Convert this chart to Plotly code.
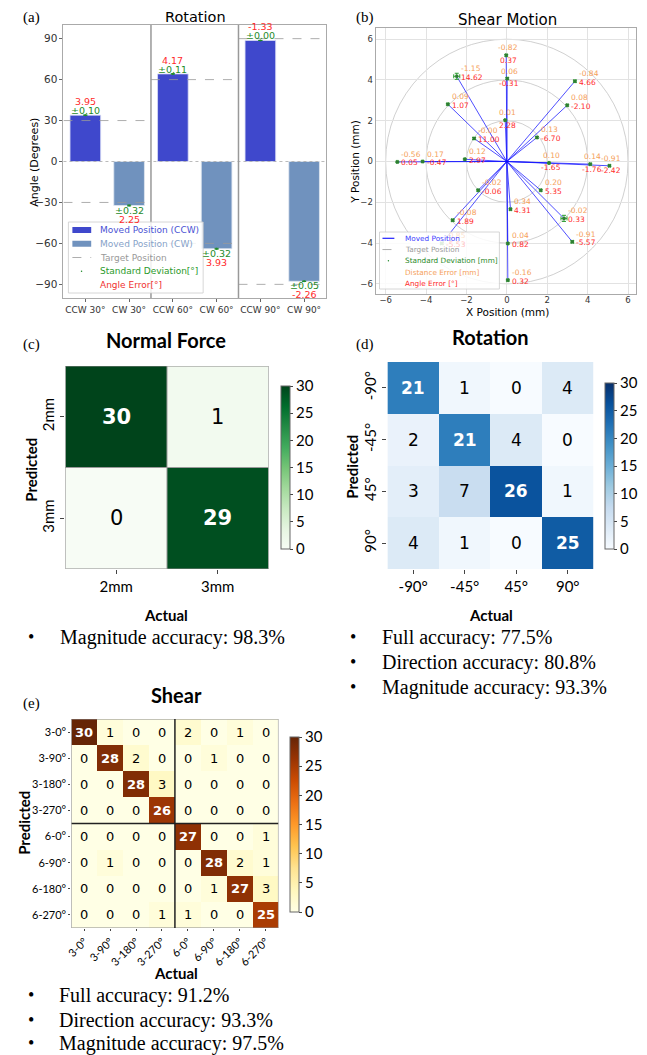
import plotly.graph_objects as go

W, H = 647, 1055
def px(x): return x / W
def py(y): return 1 - y / H

# ---------------- (a) Rotation bars ----------------
rot_cats = ["CCW 30°", "CW 30°", "CCW 60°", "CW 60°", "CCW 90°", "CW 90°"]
rot_moved = [33.95, -32.25, 64.17, -63.93, 88.67, -87.74]
rot_std = [0.10, 0.32, 0.11, 0.32, 0.00, 0.05]
rot_err = ["3.95", "2.25", "4.17", "3.93", "-1.33", "-2.26"]
rot_targets = [30, 60, 90]
rot_yticks = [-90, -60, -30, 0, 30, 60, 90]

# ---------------- (b) Shear motion ----------------
shear_dir = [90, 90, 90, 135, 135, 135, 180, 180, 180, 225, 225, 225,
             270, 270, 270, 315, 315, 315, 0, 0, 0, 45, 45, 45]
shear_x = [-0.03, 0.02, -0.08, -2.48, -2.92, -1.62, -2.08, -4.17, -5.42, -1.42, -2.68, -3.22,
           0.18, 0.05, 0.05, 1.68, 2.83, 3.24, 2.09, 4.13, 5.08, 1.49, 2.99, 3.37]
shear_y = [5.21, 4.07, 2.03, 4.18, 2.81, 1.13, 0.11, 0.00, -0.02, -1.41, -2.88, -4.02,
           -2.34, -4.02, -5.82, -1.41, -2.79, -3.94, -0.07, -0.13, -0.21, 1.18, 2.76, 3.94]
shear_std = [0.04, 0.04, 0.03, 0.15, 0.04, 0.05, 0.03, 0.03, 0.03, 0.04, 0.05, 0.05,
             0.04, 0.03, 0.04, 0.04, 0.15, 0.05, 0.03, 0.04, 0.04, 0.04, 0.04, 0.05]
shear_dist_err = ["-0.82", "0.06", "0.01", "-1.15", "0.09", "-0.00", "0.12", "0.17", "-0.56",
                  "-0.02", "-0.08", "-0.85", "0.34", "0.04", "-0.16", "0.20", "-0.02", "-0.91",
                  "0.10", "0.14", "-0.91", "0.13", "0.08", "-0.84"]
shear_ang_err = ["0.37", "-0.31", "2.28", "14.62", "1.07", "11.00", "2.97", "-0.47", "0.05",
                 "-0.06", "1.89", "-5.53", "4.31", "0.82", "0.32", "5.35", "0.33", "-5.57",
                 "-1.65", "-1.76", "-2.42", "-6.70", "-2.10", "4.66"]
shear_radii = [2, 4, 6]
shear_ticks = [-6, -4, -2, 0, 2, 4, 6]

# ---------------- (c) Normal force ----------------
nf_labels = ["2mm", "3mm"]
nf_matrix = [[30, 1], [0, 29]]
nf_acc = ["Magnitude accuracy: 98.3%"]

# ---------------- (d) Rotation confusion ----------------
rc_labels = ["-90°", "-45°", "45°", "90°"]
rc_matrix = [[21, 1, 0, 4], [2, 21, 4, 0], [3, 7, 26, 1], [4, 1, 0, 25]]
rc_acc = ["Full accuracy: 77.5%", "Direction accuracy: 80.8%", "Magnitude accuracy: 93.3%"]

# ---------------- (e) Shear confusion ----------------
sh_labels = ["3-0°", "3-90°", "3-180°", "3-270°", "6-0°", "6-90°", "6-180°", "6-270°"]
sh_matrix = [[30, 1, 0, 0, 2, 0, 1, 0],
             [0, 28, 2, 0, 0, 1, 0, 0],
             [0, 0, 28, 3, 0, 0, 0, 0],
             [0, 0, 0, 26, 0, 0, 0, 0],
             [0, 0, 0, 0, 27, 0, 0, 1],
             [0, 1, 0, 0, 0, 28, 2, 1],
             [0, 0, 0, 0, 0, 1, 27, 3],
             [0, 0, 0, 1, 1, 0, 0, 25]]
sh_acc = ["Full accuracy: 91.2%", "Direction accuracy: 93.3%", "Magnitude accuracy: 97.5%"]
cbar_ticks = [0, 5, 10, 15, 20, 25, 30]

MPL = "DejaVu Sans"
CAL = "Lato"
SER = "Liberation Serif"
C_CCW = "#3f48cc"
C_CW = "#7092be"
C_GREEN = "#1f8a2a"
C_RED = "#ff2b2b"
C_ORANGE = "#f5a05a"

fig = go.Figure()
ann = []
shapes = []

# ======== (a) ========
i_ccw = [i for i, c in enumerate(rot_cats) if c.startswith("CCW")]
i_cw = [i for i, c in enumerate(rot_cats) if c.startswith("CW")]
fig.add_trace(go.Bar(x=i_ccw, y=[rot_moved[i] for i in i_ccw], width=0.7,
                     marker=dict(color=C_CCW, line=dict(color="#d8dcf5", width=0.8)),
                     xaxis="x", yaxis="y"))
fig.add_trace(go.Bar(x=i_cw, y=[rot_moved[i] for i in i_cw], width=0.7,
                     marker=dict(color=C_CW, line=dict(color="#dfe6f0", width=0.8)),
                     xaxis="x", yaxis="y"))
tx, ty = [], []
for g, t in enumerate(rot_targets):
    for s in (1, -1):
        tx += [2 * g - 0.5, 2 * g + 1.5, None]
        ty += [s * t, s * t, None]
fig.add_trace(go.Scatter(x=tx, y=ty, mode="lines", line=dict(color="#999", width=0.8, dash="dash"),
                         xaxis="x", yaxis="y"))
fig.add_trace(go.Scatter(x=list(range(len(rot_moved))), y=rot_moved, mode="markers",
                         marker=dict(color=C_GREEN, size=2),
                         error_y=dict(type="data", array=rot_std, color=C_GREEN, thickness=1, width=2),
                         xaxis="x", yaxis="y"))
shapes.append(dict(type="line", xref="x domain", yref="y", x0=0, x1=1, y0=0, y1=0,
                   line=dict(color="#aaa", width=0.8, dash="dot")))
for g in range(1, len(rot_targets)):
    shapes.append(dict(type="line", xref="x", yref="y domain", x0=2 * g - 0.5, x1=2 * g - 0.5,
                       y0=0, y1=1, line=dict(color="#999", width=1.5)))
for i, v in enumerate(rot_moved):
    s = 1 if v > 0 else -1
    ann.append(dict(x=i, y=v, xref="x", yref="y", text=f"±{rot_std[i]:.2f}", showarrow=False,
                    xanchor="center", yanchor="middle", yshift=4.5 * s,
                    font=dict(family=MPL, size=9.5, color=C_GREEN)))
    ann.append(dict(x=i, y=v, xref="x", yref="y", text=rot_err[i], showarrow=False,
                    xanchor="center", yanchor="middle", yshift=13.5 * s,
                    font=dict(family=MPL, size=9.5, color=C_RED)))

# legend (a)
shapes.append(dict(type="rect", xref="paper", yref="paper", x0=px(63), x1=px(199), y0=py(293), y1=py(222),
                   fillcolor="rgba(255,255,255,0.85)", line=dict(color="#ccc", width=0.8), layer="above"))
leg_a = [("Moved Position (CCW)", "#4a52d4", "rect", C_CCW),
         ("Moved Position (CW)", "#86a2c8", "rect", C_CW),
         ("Target Position", "#999", "dash", "#999"),
         ("Standard Deviation[°]", "#2a9a2a", "dot", C_GREEN),
         ("Angle Error[°]", "#f03030", None, None)]
for k, (name, tc, sym, sc) in enumerate(leg_a):
    yy = 230 + k * 13.75
    if sym == "rect":
        shapes.append(dict(type="rect", xref="paper", yref="paper", x0=px(67), x1=px(86),
                           y0=py(yy + 3), y1=py(yy - 3), fillcolor=sc, line=dict(width=0), layer="above"))
    elif sym == "dash":
        shapes.append(dict(type="line", xref="paper", yref="paper", x0=px(67), x1=px(86),
                           y0=py(yy), y1=py(yy), line=dict(color=sc, width=0.8, dash="dash"), layer="above"))
    elif sym == "dot":
        shapes.append(dict(type="circle", xref="paper", yref="paper", x0=px(75.5), x1=px(77),
                           y0=py(yy + 0.75), y1=py(yy - 0.75), fillcolor=sc, line=dict(width=0), layer="above"))
    ann.append(dict(x=px(92.7), y=py(yy), xref="paper", yref="paper", text=name, showarrow=False,
                    xanchor="left", yanchor="middle", font=dict(family=MPL, size=9, color=tc)))

# ======== (b) ========
for r in shear_radii:
    shapes.append(dict(type="circle", xref="x2", yref="y2", x0=-r, x1=r, y0=-r, y1=r,
                       line=dict(color="#c4c4c4", width=0.8), layer="below"))
lx, ly = [], []
for x, y in zip(shear_x, shear_y):
    lx += [0, x, None]
    ly += [0, y, None]
fig.add_trace(go.Scatter(x=lx, y=ly, mode="lines", line=dict(color="rgba(20,20,255,0.75)", width=1),
                         xaxis="x2", yaxis="y2"))
fig.add_trace(go.Scatter(x=shear_x, y=shear_y, mode="markers",
                         marker=dict(color="#2e7d32", size=3, symbol="square"),
                         error_x=dict(type="data", array=shear_std, color="#2e9d32", thickness=1, width=2),
                         error_y=dict(type="data", array=shear_std, color="#2e9d32", thickness=1, width=2),
                         xaxis="x2", yaxis="y2"))
for k in range(len(shear_x)):
    center = shear_dir[k] in (0, 90)
    xa = "center" if center else "left"
    faded = shear_x[k] < -0.4 and shear_y[k] < -3.4
    op = 0.3 if faded else 1
    ann.append(dict(x=shear_x[k], y=shear_y[k], xref="x2", yref="y2", text=shear_dist_err[k],
                    showarrow=False, xanchor=xa, yanchor="middle", xshift=2, yshift=7.5, opacity=op,
                    font=dict(family=MPL, size=7.5, color=C_ORANGE)))
    ann.append(dict(x=shear_x[k], y=shear_y[k], xref="x2", yref="y2", text=shear_ang_err[k],
                    showarrow=False, xanchor=xa, yanchor="middle", xshift=2,
                    yshift=-5 if center else -1, opacity=op,
                    font=dict(family=MPL, size=7.5, color=C_RED)))

# legend (b)
shapes.append(dict(type="rect", xref="paper", yref="paper", x0=px(377), x1=px(498), y0=py(289), y1=py(232),
                   fillcolor="rgba(255,255,255,0.85)", line=dict(color="#ccc", width=0.8), layer="above"))
leg_b = [("Moved Position", "#3b3bff", "line", "#2020ff"),
         ("Target Position", "#999", "dash", "#999"),
         ("Standard Deviation [mm]", "#2a8a2a", "dot", C_GREEN),
         ("Distance Error [mm]", C_ORANGE, None, None),
         ("Angle Error [°]", C_RED, None, None)]
for k, (name, tc, sym, sc) in enumerate(leg_b):
    yy = 238.3 + k * 11.25
    if sym == "line":
        shapes.append(dict(type="line", xref="paper", yref="paper", x0=px(380), x1=px(392),
                           y0=py(yy), y1=py(yy), line=dict(color=sc, width=1.2), layer="above"))
    elif sym == "dash":
        shapes.append(dict(type="line", xref="paper", yref="paper", x0=px(380), x1=px(392),
                           y0=py(yy), y1=py(yy), line=dict(color=sc, width=0.8, dash="dash"), layer="above"))
    elif sym == "dot":
        shapes.append(dict(type="circle", xref="paper", yref="paper", x0=px(385.3), x1=px(386.7),
                           y0=py(yy + 0.7), y1=py(yy - 0.7), fillcolor=sc, line=dict(width=0), layer="above"))
    ann.append(dict(x=px(400.7), y=py(yy), xref="paper", yref="paper", text=name, showarrow=False,
                    xanchor="left", yanchor="middle", font=dict(family=MPL, size=7.3, color=tc)))

# ======== heatmaps ========
def cbar(xl, yt, yb):
    return dict(x=px(xl), xanchor="left", xpad=0, ypad=0, y=py((yt + yb) / 2), yanchor="middle",
                len=yb - yt, lenmode="pixels", thickness=9, thicknessmode="pixels",
                outlinewidth=1, outlinecolor="#666", tickvals=cbar_ticks, ticks="outside",
                ticklen=3, tickcolor="#444", tickfont=dict(family=CAL, size=15, color="black"))

def heat(mat, labels, xa, ya, cs, cb, size):
    n = len(labels)
    fig.add_trace(go.Heatmap(z=mat, x=list(range(n)), y=list(range(n)), colorscale=cs,
                             zmin=0, zmax=30, colorbar=cb, xaxis=xa, yaxis=ya, hoverinfo="skip"))
    for i, row in enumerate(mat):
        for j, v in enumerate(row):
            white = v > 15
            ann.append(dict(x=j, y=i, xref=xa, yref=ya, text=f"<b>{v}</b>" if white else str(v),
                            showarrow=False, xanchor="center", yanchor="middle",
                            font=dict(family=MPL, size=size, color="white" if white else "black")))

heat(nf_matrix, nf_labels, "x3", "y3", "Greens", cbar(278, 386, 549), 21)
heat(rc_matrix, rc_labels, "x4", "y4", "Blues", cbar(605, 383, 549), 17)
heat(sh_matrix, sh_labels, "x5", "y5", "YlOrBr", cbar(287, 737, 912), 13)

# outlines / separators
shapes.append(dict(type="rect", xref="x3", yref="y3", x0=-0.5, x1=1.5, y0=-0.5, y1=1.5,
                   line=dict(color="#888", width=1)))
shapes.append(dict(type="line", xref="x3", yref="y3", x0=0.5, x1=0.5, y0=-0.5, y1=1.5,
                   line=dict(color="#999", width=1)))
shapes.append(dict(type="line", xref="x3", yref="y3", x0=-0.5, x1=1.5, y0=0.5, y1=0.5,
                   line=dict(color="#999", width=1)))
shapes.append(dict(type="rect", xref="x5", yref="y5", x0=-0.5, x1=7.5, y0=-0.5, y1=7.5,
                   line=dict(color="#888", width=1)))
shapes.append(dict(type="line", xref="x5", yref="y5", x0=3.5, x1=3.5, y0=-0.5, y1=7.5,
                   line=dict(color="#222", width=1.5)))
shapes.append(dict(type="line", xref="x5", yref="y5", x0=-0.5, x1=7.5, y0=3.5, y1=3.5,
                   line=dict(color="#222", width=1.5)))

# ======== text annotations ========
def T(x, y, text, size, family, color="black", xa="center", ya="middle", angle=0):
    ann.append(dict(x=px(x), y=py(y), xref="paper", yref="paper", text=text, showarrow=False,
                    xanchor=xa, yanchor=ya, textangle=angle, font=dict(family=family, size=size, color=color)))

T(26, 17, "(a)", 15, SER)
T(362, 17, "(b)", 15, SER)
T(26, 345, "(c)", 15, SER)
T(362, 345, "(d)", 15, SER)
T(26, 703, "(e)", 15, SER)
T(191, 17, "Rotation", 14.5, MPL)
T(506, 20, "Shear Motion", 15, MPL)
T(28, 162, "Angle (Degrees)", 11, MPL, angle=-90)
T(352, 162, "Y Position (mm)", 10.5, MPL, angle=-90)
T(506, 312, "X Position (mm)", 10.5, MPL)
T(162, 340, "<b>Normal Force</b>", 20, CAL)
T(489, 337, "<b>Rotation</b>", 20, CAL)
T(172, 695, "<b>Shear</b>", 20, CAL)
T(25, 470, "<b>Predicted</b>", 15, CAL, angle=-90)
T(349, 467, "<b>Predicted</b>", 15, CAL, angle=-90)
T(18, 823, "<b>Predicted</b>", 15, CAL, angle=-90)
T(162, 615, "<b>Actual</b>", 15, CAL)
T(490, 615, "<b>Actual</b>", 15, CAL)
T(172, 973, "<b>Actual</b>", 15, CAL)

def bullets(items, xb, xt, ys):
    for t, y in zip(items, ys):
        T(xb, y, "•", 18, SER)
        T(xt, y, t, 20, SER, xa="left")

bullets(nf_acc, 25, 52, [637])
bullets(rc_acc, 350, 377, [637, 662, 687])
bullets(sh_acc, 25, 51, [995, 1020, 1043])

# ======== layout ========
ax_common = dict(showgrid=False, zeroline=False)
fig.update_layout(
    width=W, height=H, margin=dict(l=0, r=0, t=0, b=0),
    paper_bgcolor="white", plot_bgcolor="white", showlegend=False, barmode="overlay",
    font=dict(family=MPL, color="#222"),
    xaxis=dict(domain=[px(58), px(323)], range=[-0.5, 5.5], anchor="y", tickvals=list(range(6)),
               ticktext=rot_cats, tickfont=dict(size=9, color="#333"), ticks="outside", ticklen=3,
               tickcolor="#666", showline=True, mirror=True, linecolor="#aaa", **ax_common),
    yaxis=dict(domain=[py(298), py(25)], range=[-100, 100], anchor="x", tickvals=rot_yticks,
               tickfont=dict(size=10.5, color="#333"), ticks="outside", ticklen=3, tickcolor="#666",
               showline=True, mirror=True, linecolor="#aaa", **ax_common),
    xaxis2=dict(domain=[px(373), px(636)], range=[-6.5, 6.4], anchor="y2", tickvals=shear_ticks,
                tickfont=dict(size=8.5, color="#333"), showgrid=True, gridcolor="#e2e2e2", gridwidth=0.8,
                zeroline=False, showline=True, mirror=True, linecolor="#aaa", ticklabelstandoff=-2),
    yaxis2=dict(domain=[py(294), py(28)], range=[-6.5, 6.55], anchor="x2", tickvals=shear_ticks,
                tickfont=dict(size=8.5, color="#333"), showgrid=True, gridcolor="#e2e2e2", gridwidth=0.8,
                zeroline=False, showline=True, mirror=True, linecolor="#aaa"),
    xaxis3=dict(domain=[px(60), px(265)], range=[-0.5, 1.5], anchor="y3", tickvals=[0, 1],
                ticktext=nf_labels, tickfont=dict(family=CAL, size=15, color="black"),
                ticks="outside", ticklen=4, tickcolor="#444", **ax_common),
    yaxis3=dict(domain=[py(569), py(366)], range=[1.5, -0.5], anchor="x3", tickvals=[0, 1],
                ticktext=nf_labels, tickangle=-90, tickfont=dict(family=CAL, size=15, color="black"),
                ticks="outside", ticklen=4, tickcolor="#444", **ax_common),
    xaxis4=dict(domain=[px(385), px(593)], range=[-0.5, 3.5], anchor="y4", tickvals=list(range(4)),
                ticktext=rc_labels, tickfont=dict(family=CAL, size=15, color="black"),
                ticks="outside", ticklen=4, tickcolor="#444", **ax_common),
    yaxis4=dict(domain=[py(569), py(362)], range=[3.5, -0.5], anchor="x4", tickvals=list(range(4)),
                ticktext=rc_labels, tickangle=-90, tickfont=dict(family=CAL, size=15, color="black"),
                ticks="outside", ticklen=4, tickcolor="#444", **ax_common),
    xaxis5=dict(domain=[px(66), px(275)], range=[-0.5, 7.5], anchor="y5", tickvals=list(range(8)),
                ticktext=sh_labels, tickangle=-45, tickfont=dict(family=CAL, size=11, color="black"),
                ticks="outside", ticklen=2, tickcolor="#444", **ax_common),
    yaxis5=dict(domain=[py(928), py(719)], range=[7.5, -0.5], anchor="x5", tickvals=list(range(8)),
                ticktext=sh_labels, tickfont=dict(family=CAL, size=11, color="black"),
                ticks="outside", ticklen=2, tickcolor="#444", **ax_common),
    annotations=ann, shapes=shapes,
)

fig.write_html("out.html", config={"displayModeBar": False},
               post_script="document.body.style.margin='0';document.body.style.overflow='hidden';")
